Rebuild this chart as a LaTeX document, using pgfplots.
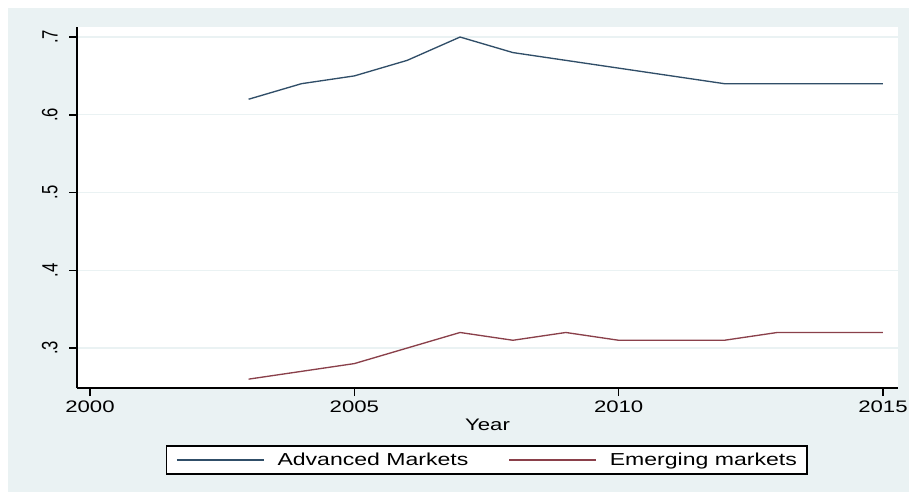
\documentclass[border=0pt]{standalone}
\usepackage{pgfplots}
\pgfplotsset{compat=1.18}
\usepackage{fontspec}
\setmainfont{Liberation Sans}
\definecolor{stbg}{RGB}{234,242,243}
\definecolor{stnavy}{RGB}{48,78,104}
\definecolor{stmaroon}{RGB}{138,64,74}
% the reference is stretched sideways, so is its text
\newcommand{\wide}[1]{\scalebox{1.33}[1]{#1}}
\newcommand{\tall}[1]{\scalebox{1}[1.33]{#1}}
\newcommand{\chfont}{\fontsize{12.5}{15}\selectfont}
\newcommand{\lgfont}{\fontsize{13}{15}\selectfont}
\begin{document}
\begin{tikzpicture}
\useasboundingbox (-57.75pt,-78.75pt) rectangle (624pt,291pt);
\fill[white] (-57.75pt,-78.75pt) rectangle (624pt,291pt);
\fill[stbg] (-51.75pt,-78pt) rectangle (624pt,285pt);
\begin{axis}[
    at={(0,0)}, anchor=south west,
    scale only axis, width=615.75pt, height=270.75pt,
    xmin=1999.754, xmax=2015.284,
    ymin=0.2486, ymax=0.7129,
    axis background/.style={fill=white},
    axis x line*=bottom, axis y line*=left,
    axis line style={black, line width=1.1pt, -},
    tick align=outside, major tick length=6pt,
    tick style={black, line width=1.1pt},
    ymajorgrids, major grid style={stbg, line width=1pt},
    xtick={2000,2005,2010,2015},
    xticklabels={\wide{2000},\wide{2005},\wide{2010},\wide{2015}},
    ytick={0.3,0.4,0.5,0.6,0.7},
    yticklabels={\tall{.3},\tall{.4},\tall{.5},\tall{.6},\tall{.7}},
    tick label style={font=\chfont},
    yticklabel style={rotate=90, anchor=south},
    yticklabel shift=5pt,
    xlabel={\wide{Year}},
    xlabel style={font=\chfont, at={(axis description cs:0.5,0)}, anchor=base, yshift=-31.5pt},
    legend columns=2,
    legend style={at={(axis description cs:0.4988,-0.1994)}, anchor=center,
        draw=black, line width=1pt, fill=white, font=\lgfont,
        inner xsep=7.5pt, inner ysep=5pt,
        nodes={inner sep=0pt},
        /tikz/every odd column/.append style={column sep=9.75pt},
        /tikz/every even column/.append style={column sep=30pt}},
    legend image code/.code={\draw[#1, line width=1pt] (0pt,0pt) -- (65.25pt,0pt);},
]
\addplot[stnavy, line width=1pt] coordinates {
    (2003,0.62) (2004,0.64) (2005,0.65) (2006,0.67) (2007,0.70)
    (2008,0.68) (2009,0.67) (2010,0.66) (2011,0.65) (2012,0.64)
    (2013,0.64) (2014,0.64) (2015,0.64)
};
\addlegendentry{\wide{Advanced Markets}}
\addplot[stmaroon, line width=1pt] coordinates {
    (2003,0.26) (2004,0.27) (2005,0.28) (2006,0.30) (2007,0.32)
    (2008,0.31) (2009,0.32) (2010,0.31) (2011,0.31) (2012,0.31)
    (2013,0.32) (2014,0.32) (2015,0.32)
};
\addlegendentry{\wide{Emerging markets}\hspace{6pt}}
\end{axis}
\end{tikzpicture}
\end{document}
